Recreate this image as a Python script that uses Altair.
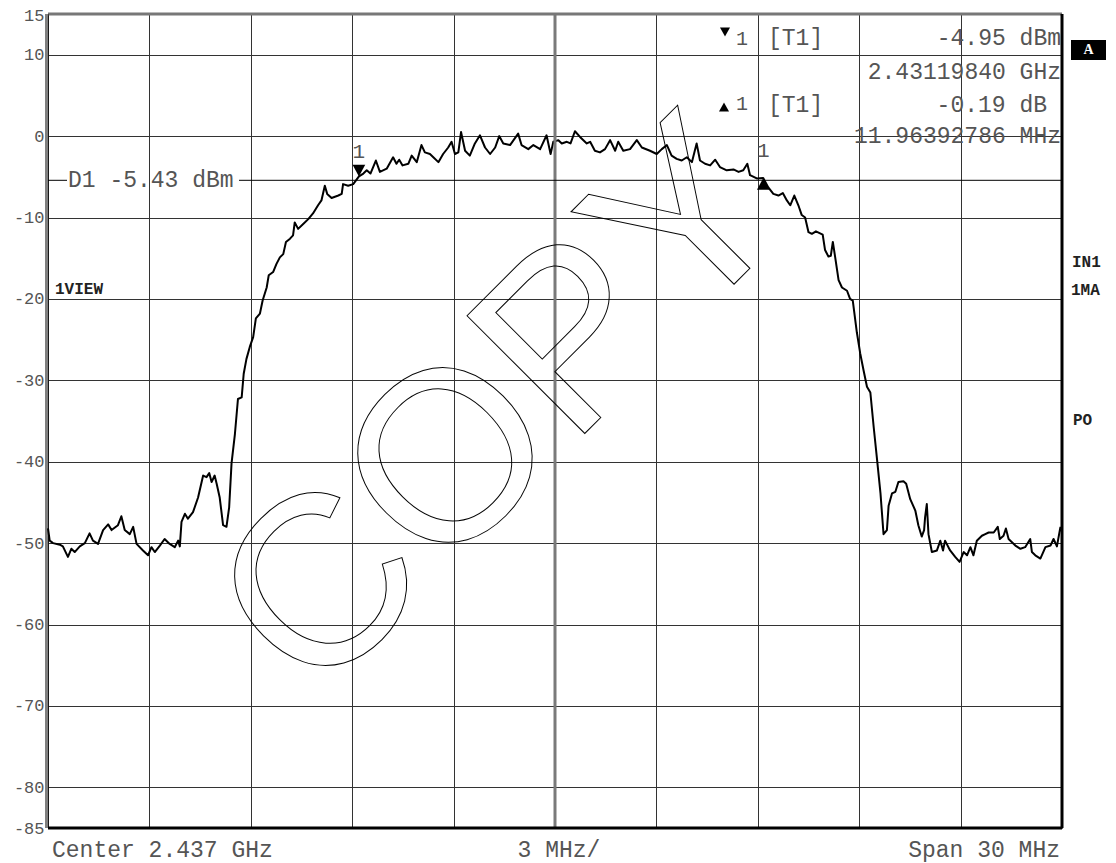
import altair as alt
import pandas as pd

# ---------------- data (frequency offset from centre in MHz, level in dBm) ----------------
left_floor = [
    (-15.00, -48.2), (-14.95, -49.7), (-14.85, -50.0), (-14.65, -50.2), (-14.56, -50.4),
    (-14.41, -51.7), (-14.31, -50.7), (-14.21, -51.1), (-14.06, -50.4), (-13.91, -50.0),
    (-13.77, -48.8), (-13.67, -49.7), (-13.52, -50.1), (-13.37, -48.4), (-13.22, -47.7),
    (-13.12, -48.4), (-12.93, -47.8), (-12.83, -46.7), (-12.73, -48.4), (-12.58, -48.9),
    (-12.48, -48.0), (-12.38, -50.1), (-12.19, -50.9), (-12.04, -51.5), (-11.94, -50.5),
    (-11.84, -51.1), (-11.69, -50.3), (-11.55, -49.5), (-11.40, -50.1), (-11.25, -50.5),
    (-11.15, -49.7), (-11.10, -50.4), (-11.05, -47.4), (-10.95, -46.4), (-10.86, -47.0),
    (-10.71, -46.2), (-10.56, -44.4), (-10.41, -41.7), (-10.31, -41.9), (-10.23, -41.4),
    (-10.16, -42.5), (-10.07, -41.7), (-10.01, -42.7), (-9.92, -44.4), (-9.82, -47.8),
    (-9.72, -48.0), (-9.64, -45.6),
]
left_skirt = [
    (-9.57, -40.2), (-9.47, -36.6), (-9.38, -32.3), (-9.27, -32.1), (-9.21, -29.2),
    (-9.13, -27.4), (-9.03, -25.9), (-8.93, -24.7), (-8.85, -22.4), (-8.73, -21.8),
    (-8.65, -20.2), (-8.53, -18.6), (-8.47, -17.1), (-8.34, -16.7), (-8.24, -15.7),
    (-8.14, -14.9), (-8.04, -14.5), (-7.96, -13.0), (-7.84, -12.6), (-7.75, -12.2),
    (-7.70, -10.6), (-7.60, -11.4), (-7.45, -10.8), (-7.30, -10.2), (-7.16, -9.5),
    (-7.01, -8.5), (-6.91, -7.9), (-6.81, -6.1), (-6.74, -7.1), (-6.61, -7.6),
    (-6.41, -7.3), (-6.31, -7.1), (-6.27, -5.9), (-6.12, -6.1), (-5.97, -5.9),
]
passband = [
    (-5.80, -4.95), (-5.67, -4.6), (-5.57, -4.2), (-5.46, -4.6), (-5.30, -3.0),
    (-5.18, -4.4), (-4.98, -4.0), (-4.79, -2.6), (-4.69, -3.4), (-4.61, -2.9),
    (-4.51, -3.6), (-4.34, -3.4), (-4.24, -2.4), (-4.09, -3.2), (-3.95, -1.1),
    (-3.85, -2.0), (-3.70, -2.2), (-3.60, -2.6), (-3.45, -3.2), (-3.31, -2.2),
    (-3.16, -1.4), (-3.06, -0.7), (-2.96, -2.2), (-2.86, -2.0), (-2.78, 0.5),
    (-2.66, -1.8), (-2.52, -2.4), (-2.37, -0.9), (-2.22, 0.1), (-2.07, -1.4),
    (-1.92, -2.2), (-1.77, -1.4), (-1.65, 0.0), (-1.53, -0.9), (-1.33, -1.1),
    (-1.09, 0.3), (-0.99, -1.1), (-0.79, -1.6), (-0.64, -1.1), (-0.44, -1.6),
    (-0.25, 0.1), (-0.13, -2.2), (-0.05, -0.7), (0.10, -0.5), (0.20, -0.9),
    (0.35, -0.7), (0.46, -0.9), (0.59, 0.6), (0.74, -0.1), (0.94, -0.9),
    (1.04, -0.7), (1.18, -1.8), (1.33, -2.0), (1.48, -1.6), (1.63, -0.5),
    (1.78, -1.8), (1.87, -0.7), (2.02, -1.8), (2.22, -1.6), (2.42, -0.5),
    (2.57, -1.4), (2.81, -1.8), (3.01, -2.2), (3.16, -1.6), (3.31, -1.1),
    (3.45, -2.4), (3.60, -2.8), (3.75, -3.0), (3.90, -2.6), (4.05, -3.2),
    (4.19, -0.9), (4.29, -3.0), (4.44, -3.4), (4.59, -3.6), (4.74, -2.9),
    (4.88, -3.8), (5.08, -4.2), (5.28, -4.1), (5.43, -4.4), (5.57, -4.2),
    (5.69, -3.4), (5.77, -4.8), (5.97, -5.2), (6.16, -5.14),
]
right_skirt = [
    (6.31, -6.3), (6.46, -7.1), (6.61, -7.3), (6.74, -7.0), (6.86, -7.9),
    (6.96, -8.5), (7.08, -7.3), (7.20, -8.5), (7.30, -9.7), (7.40, -10.0),
    (7.50, -11.8), (7.60, -12.0), (7.72, -11.7), (7.92, -12.1), (7.99, -14.0),
    (8.09, -14.8), (8.16, -14.7), (8.22, -13.0), (8.29, -14.9), (8.39, -17.7),
    (8.49, -18.6), (8.64, -19.0), (8.73, -20.0), (8.81, -20.2), (8.93, -24.1),
    (9.03, -26.7), (9.13, -28.8), (9.23, -30.8), (9.33, -31.5), (9.43, -35.8),
    (9.53, -39.8), (9.63, -43.9), (9.72, -48.9),
]
right_floor = [
    (9.82, -48.4), (9.87, -45.4), (9.97, -43.9), (10.07, -43.7), (10.16, -42.5),
    (10.31, -42.4), (10.39, -42.7), (10.51, -44.6), (10.66, -46.0), (10.75, -47.8),
    (10.85, -49.2), (10.92, -48.4), (10.95, -46.8), (11.00, -45.2), (11.05, -48.9),
    (11.15, -51.1), (11.30, -50.9), (11.40, -49.7), (11.48, -50.9), (11.54, -49.7),
    (11.69, -50.9), (11.84, -51.7), (11.97, -52.3), (12.09, -51.1), (12.19, -51.5),
    (12.29, -50.5), (12.38, -51.5), (12.48, -49.7), (12.63, -49.1), (12.73, -48.9),
    (12.83, -48.7), (12.98, -48.7), (13.10, -48.0), (13.16, -49.5), (13.27, -49.1),
    (13.34, -48.2), (13.42, -49.5), (13.62, -50.3), (13.77, -50.7), (13.91, -50.5),
    (14.06, -49.5), (14.11, -51.1), (14.21, -51.5), (14.36, -51.9), (14.51, -50.5),
    (14.66, -50.3), (14.75, -49.5), (14.85, -50.4), (14.95, -48.1), (15.00, -48.6),
]

center_ghz = 2.437
span_mhz = 30
div_mhz = 3
marker1_ghz = 2.43119840
marker1_dbm = -4.95
delta1_mhz = 11.96392786
delta1_db = -0.19
d1_dbm = -5.43
y_ticks = [15, 10, 0, -10, -20, -30, -40, -50, -60, -70, -80, -85]
x_grid = [-15, -12, -9, -6, -3, 0, 3, 6, 9, 12, 15]

# ---------------- tables ----------------
trace = pd.DataFrame(left_floor + left_skirt + passband + right_skirt + right_floor,
                     columns=["f", "dbm"])
m1_f = (marker1_ghz - center_ghz) * 1000.0
mk_down = pd.DataFrame({"f": [m1_f], "dbm": [marker1_dbm]})
mk_up = pd.DataFrame({"f": [m1_f + delta1_mhz], "dbm": [marker1_dbm + delta1_db]})
d1_df = pd.DataFrame({"dbm": [d1_dbm]})

W, H = 1014, 814
MONO = "Liberation Mono"
TXT = "#555555"

xs = alt.Scale(domain=[-15, 15], nice=False, zero=False)
ys = alt.Scale(domain=[-85, 15], nice=False, zero=False)

base_axis_x = alt.Axis(values=x_grid, labels=False, ticks=False, domain=False, title=None,
                       grid=True, gridColor="#333333", gridWidth=1, gridOpacity=1)
base_axis_y = alt.Axis(values=y_ticks, ticks=False, domain=False, title=None, grid=True,
                       gridColor="#333333", gridWidth=1, gridOpacity=1,
                       labelFont=MONO, labelFontSize=17, labelColor=TXT, labelPadding=4,
                       labelExpr="'' + datum.value", labelBaseline="middle",
                       labelOffset={"condition": {"test": "datum.value == 15", "value": 1.5},
                                    "value": 0})

line = alt.Chart(trace).mark_line(color="black", strokeWidth=2, strokeJoin="round").encode(
    x=alt.X("f:Q", scale=xs, axis=base_axis_x),
    y=alt.Y("dbm:Q", scale=ys, axis=base_axis_y),
)

# centre vertical line (thicker, grey)
centre = alt.Chart(pd.DataFrame({"f": [0]})).mark_rule(color="#7a7a7a", strokeWidth=3).encode(
    x=alt.X("f:Q", scale=xs))

# D1 display line with its label
d1_left = alt.Chart(d1_df).mark_rule(color="black", strokeWidth=1).encode(
    x=alt.value(0), x2=alt.value(19), y=alt.Y("dbm:Q", scale=ys))
d1_right = alt.Chart(d1_df).mark_rule(color="black", strokeWidth=1).encode(
    x=alt.value(191), x2=alt.value(W), y=alt.Y("dbm:Q", scale=ys))
d1_text = alt.Chart(d1_df).mark_text(
    font=MONO, fontSize=23, color=TXT, align="left", baseline="middle"
).encode(x=alt.value(20), y=alt.Y("dbm:Q", scale=ys), text=alt.value(f"D1 {d1_dbm:.2f} dBm"))

# markers on trace
tri_down_tip = "M-1,-1.85L1,-1.85L0,0Z"
tri_up_tip = "M-1,1.85L1,1.85L0,0Z"
m_down = alt.Chart(mk_down).mark_point(shape=tri_down_tip, filled=True, color="black",
                                       size=160, opacity=1).encode(
    x=alt.X("f:Q", scale=xs), y=alt.Y("dbm:Q", scale=ys))
m_up = alt.Chart(mk_up).mark_point(shape=tri_up_tip, filled=True, color="black",
                                   size=160, opacity=1).encode(
    x=alt.X("f:Q", scale=xs), y=alt.Y("dbm:Q", scale=ys))
m_down_lbl = alt.Chart(mk_down).mark_text(font=MONO, fontSize=21, color="#555555",
                                          baseline="middle", dy=-24).encode(
    x=alt.X("f:Q", scale=xs), y=alt.Y("dbm:Q", scale=ys), text=alt.value("1"))
m_up_lbl = alt.Chart(mk_up).mark_text(font=MONO, fontSize=21, color="#555555",
                                      baseline="middle", dy=-27).encode(
    x=alt.X("f:Q", scale=xs), y=alt.Y("dbm:Q", scale=ys), text=alt.value("1"))

# watermark
copy = alt.Chart(d1_df).mark_text(
    text="COPY", font="Liberation Sans", fontSize=242, angle=315, align="center",
    baseline="middle", fillOpacity=0, stroke="black", strokeWidth=1
).encode(x=alt.value(457), y=alt.value(396))


def label(txt, x, y, align="left", baseline="alphabetic", size=23, weight="normal",
          color=TXT, font=MONO):
    return alt.Chart(d1_df).mark_text(font=font, fontSize=size, fontWeight=weight, color=color,
                                      align=align, baseline=baseline).encode(
        x=alt.value(x), y=alt.value(y), text=alt.value(txt))


tri_center_down = "M-1,-0.9L1,-0.9L0,0.9Z"
tri_center_up = "M-1,0.9L1,0.9L0,-0.9Z"
tab_down = alt.Chart(d1_df).mark_point(shape=tri_center_down, filled=True, color="black",
                                       size=100, opacity=1).encode(
    x=alt.value(677), y=alt.value(18))
tab_up = alt.Chart(d1_df).mark_point(shape=tri_center_up, filled=True, color="black",
                                     size=100, opacity=1).encode(
    x=alt.value(676), y=alt.value(93))

texts = [
    label("1", 694, 31, align="center", size=20),
    label("[T1]", 720, 31),
    label(f"{marker1_dbm:.2f} dBm", 1013, 31, align="right"),
    label(f"{marker1_ghz:.8f} GHz", 1013, 65, align="right"),
    label("1", 694, 96, align="center", size=20),
    label("[T1]", 720, 98),
    label(f"{delta1_db:.2f} dB", 999, 98, align="right"),
    label(f"{delta1_mhz:.8f} MHz", 1013, 129, align="right"),
    label("1VIEW", 7, 275, baseline="middle", size=16, weight="bold", color="#222222"),
    label("IN1", 1024, 248, baseline="middle", size=16, weight="bold", color="#222222"),
    label("1MA", 1023, 276, baseline="middle", size=16, weight="bold", color="#222222"),
    label("PO", 1025, 406, baseline="middle", size=16, weight="bold", color="#222222"),
    label(f"Center {center_ghz} GHz", 4, 843),
    label(f"{div_mhz} MHz/", 511, 843, align="center"),
    label(f"Span {span_mhz} MHz", 1012, 843, align="right"),
]

a_box = alt.Chart(d1_df).mark_rect(color="black").encode(
    x=alt.value(1023), x2=alt.value(1058), y=alt.value(26), y2=alt.value(46))
a_txt = label("A", 1040.5, 36, align="center", baseline="middle", size=14, weight="bold",
              color="white", font="Liberation Serif")

# frame
frame_top = alt.Chart(pd.DataFrame({"dbm": [15]})).mark_rule(color="#777777", strokeWidth=3).encode(
    y=alt.Y("dbm:Q", scale=ys))
frame_bottom = alt.Chart(pd.DataFrame({"dbm": [-85]})).mark_rule(color="black", strokeWidth=3).encode(
    y=alt.Y("dbm:Q", scale=ys))
frame_right = alt.Chart(pd.DataFrame({"f": [15]})).mark_rule(color="black", strokeWidth=3).encode(
    x=alt.X("f:Q", scale=xs))
frame_left = alt.Chart(pd.DataFrame({"f": [-15]})).mark_rule(color="black", strokeWidth=1).encode(
    x=alt.X("f:Q", scale=xs))
frame_left2 = alt.Chart(d1_df).mark_rule(color="black", strokeWidth=1).encode(
    x=alt.value(-2), y=alt.value(0), y2=alt.value(H))

chart = alt.layer(
    line, centre, d1_left, d1_right, d1_text, copy, m_down, m_up, m_down_lbl, m_up_lbl,
    tab_down, tab_up, *texts, a_box, a_txt,
    frame_top, frame_bottom, frame_right, frame_left, frame_left2,
).properties(
    width=W, height=H,
    autosize=alt.AutoSizeParams(type="none"),
    padding={"left": 40, "top": 6, "right": 44, "bottom": 36},
    background="white",
).configure_view(stroke=None)

chart.save("out.html", embed_options={"renderer": "svg", "actions": False})
